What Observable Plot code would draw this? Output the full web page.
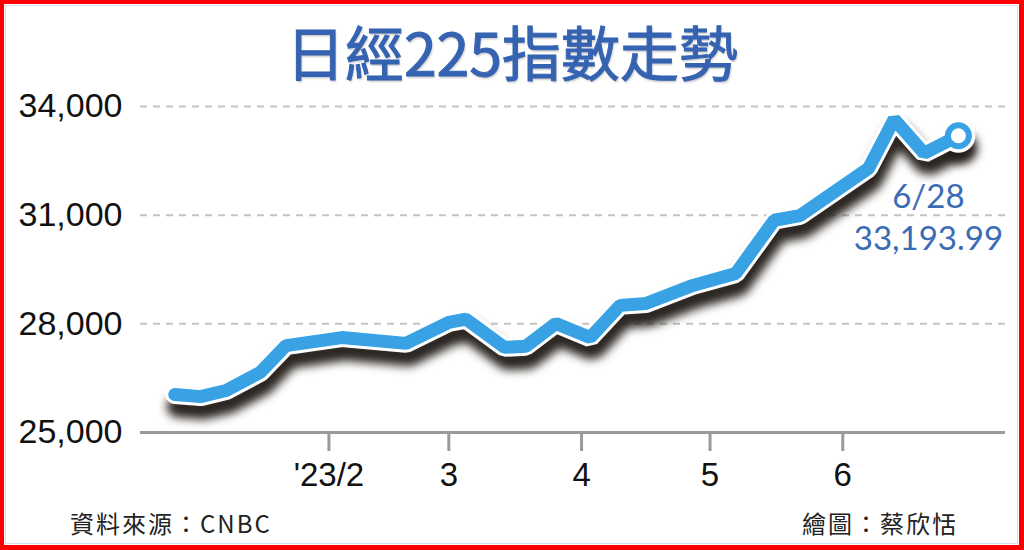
<!DOCTYPE html>
<html><head><meta charset="utf-8">
<script src="https://cdn.jsdelivr.net/npm/d3@7"></script>
<script src="https://cdn.jsdelivr.net/npm/@observablehq/plot@0.6"></script>
<style>
body{margin:0;background:#fff;}
#wrap{position:relative;width:1024px;height:550px;overflow:hidden;background:#fff;}
#outer{position:absolute;left:0;top:0;width:1024px;height:550px;box-sizing:border-box;border-style:solid;border-color:#f00;border-width:4px 5px 5px 4px;}
#inner{position:absolute;left:5px;top:5px;right:6px;bottom:6px;border:1px solid #cfe0f4;}
#title{position:absolute;left:0;top:21px;width:1024px;text-align:center;font-family:"Noto Sans CJK TC";font-weight:400;font-size:59px;line-height:59px;color:#3563b1;-webkit-text-stroke:1px #3563b1;text-shadow:1px 2px 2px rgba(0,0,0,.2);}
#chart{position:absolute;left:0;top:80px;}
.foot{position:absolute;top:509px;font-family:"Noto Sans CJK TC";font-size:24px;line-height:28px;color:#222;letter-spacing:2px;white-space:nowrap;}
</style></head>
<body><div id="wrap">
<div id="title"></div>
<div id="chart"></div>
<div class="foot" id="src" style="left:70px"></div>
<div class="foot" id="credit" style="right:66px"></div>
<div id="inner"></div><div id="outer"></div>
</div>
<script>
const titleText = "日經225指數走勢";
const dates = ["2022-12-27","2023-01-02","2023-01-08","2023-01-16","2023-01-22","2023-02-04","2023-02-19","2023-03-01","2023-03-05","2023-03-14","2023-03-19","2023-03-26","2023-04-03","2023-04-10","2023-04-16","2023-04-27","2023-05-07","2023-05-16","2023-05-22","2023-06-07","2023-06-13","2023-06-20","2023-06-28"];
const values = [26050, 25990, 26160, 26660, 27400, 27620, 27460, 28040, 28130, 27350, 27380, 28010, 27620, 28510, 28560, 29060, 29390, 30860, 30990, 32290, 33650, 32710, 33193.99];
const yTicks = [25000, 28000, 31000, 34000];
const xTickDates = ["2023-02-01","2023-03-01","2023-04-01","2023-05-01","2023-06-01"];
const xTickLabels = ["'23/2","3","4","5","6"];
const lastLabel = ["6/28","33,193.99"];
const sourceText = "資料來源：CNBC";
const creditText = "繪圖：蔡欣恬";

document.getElementById("title").textContent = titleText;
document.getElementById("src").textContent = sourceText;
document.getElementById("credit").textContent = creditText;

const data = dates.map((d, i) => ({date: new Date(d), value: values[i]}));
const last = data[data.length - 1];
const tickDates = xTickDates.map(d => new Date(d));
const labelMap = new Map(tickDates.map((d, i) => [+d, xTickLabels[i]]));
const BLUE = "#38a2e4";

const plot = Plot.plot({
  width: 1024, height: 420,
  marginLeft: 140, marginRight: 19, marginTop: 26, marginBottom: 68,
  style: {fontFamily: "'Liberation Sans', Arial, sans-serif", background: "transparent", overflow: "visible"},
  x: {type: "utc", domain: [new Date("2022-12-19"), new Date("2023-07-09")]},
  y: {domain: [25000, 34000]},
  marks: [
    Plot.ruleY(yTicks.slice(1), {stroke: "#c4c4c4", strokeWidth: 2, strokeDasharray: "7,6"}),
    Plot.ruleY([yTicks[0]], {stroke: "#9a9a9a", strokeWidth: 3}),
    Plot.axisY({ticks: yTicks, tickFormat: d3.format(","), tickSize: 0, tickPadding: 0, textAnchor: "start", dx: -122, fontSize: 34, fill: "#111", label: null}),
    Plot.axisX({ticks: tickDates, tickFormat: d => labelMap.get(+d), tickSize: 19, tickPadding: 11, stroke: "#9a9a9a", strokeWidth: 3, fontSize: 33, fill: "#111", label: null}),
    Plot.line(data, {x: "date", y: "value", stroke: "#201a15", strokeOpacity: 0.95, strokeWidth: 22, dx: 3, dy: 12, strokeLinejoin: "miter", strokeLinecap: "round"}),
    Plot.dot([last], {x: "date", y: "value", r: 16, fill: "#201a15", fillOpacity: 0.9, dx: 3, dy: 12}),
    Plot.line(data, {x: "date", y: "value", stroke: "#fff", strokeWidth: 19, strokeLinejoin: "miter", strokeLinecap: "round"}),
    Plot.dot([last], {x: "date", y: "value", r: 17, fill: "#fff"}),
    Plot.line(data, {x: "date", y: "value", stroke: BLUE, strokeWidth: 13, strokeLinejoin: "miter", strokeLinecap: "round"}),
    Plot.dot([last], {x: "date", y: "value", r: 10.5, fill: "#fff", stroke: BLUE, strokeWidth: 6}),
    Plot.text([last], {x: "date", y: "value", text: () => lastLabel.join("\n"), dx: -30, dy: 80, fill: "#3a6bb5", fontSize: 33, fontFamily: "Lato", lineHeight: 1.25, textAnchor: "middle", lineAnchor: "middle"})
  ]
});
const lines = plot.querySelectorAll('g[aria-label="line"]');
if (lines[0]) lines[0].style.filter = "blur(5px)";
const dots = plot.querySelectorAll('g[aria-label="dot"]');
if (dots[0]) dots[0].style.filter = "blur(5px)";
document.getElementById("chart").appendChild(plot);
</script>
</body></html>
